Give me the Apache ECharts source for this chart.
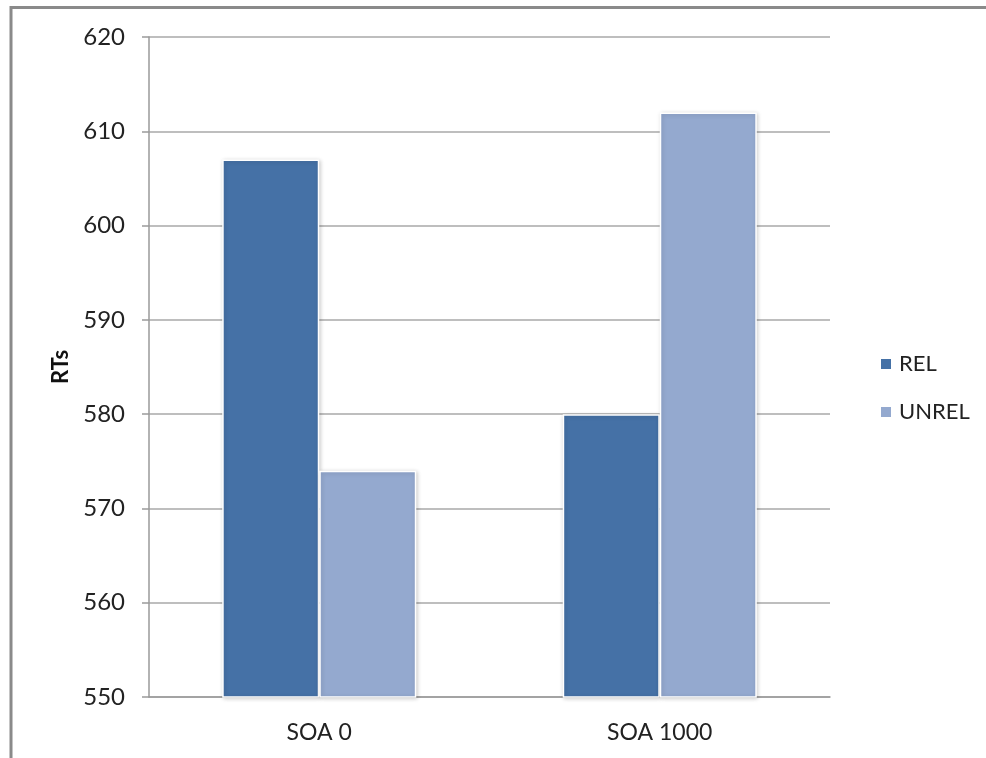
<!DOCTYPE html>
<html>
<head>
<meta charset="utf-8">
<script src="https://cdn.jsdelivr.net/npm/echarts@6/dist/echarts.min.js"></script>
<style>
  html, body { margin: 0; padding: 0; background: #fff; }
  #chart { width: 986px; height: 758px; }
</style>
</head>
<body>
<div id="chart"></div>
<script>
// Mean reaction times by SOA and cue reliability
const categories = ['SOA 0', 'SOA 1000'];
const relValues = [607, 580];
const unrelValues = [574, 612];
const seriesNames = ['REL', 'UNREL'];
const yMin = 550, yMax = 620, yStep = 10;

const FONT = 'Lato, "Open Sans", sans-serif';
const chart = echarts.init(document.getElementById('chart'), null, { renderer: 'canvas' });

const barStyle = (color) => ({
  color: color,
  borderColor: '#ffffff',
  borderWidth: 1.5,
  shadowColor: 'rgba(0,0,0,0.18)',
  shadowBlur: 4,
  shadowOffsetX: 1,
  shadowOffsetY: 1
});

chart.setOption({
  backgroundColor: '#ffffff',
  animation: false,
  textStyle: { fontFamily: FONT },
  graphic: [{
    type: 'rect',
    shape: { x: 11, y: 7.5, width: 1000, height: 800 },
    style: { fill: 'none', stroke: '#8a8a8a', lineWidth: 3 },
    silent: true
  }],
  grid: { left: 149, top: 37, right: 156, bottom: 61, containLabel: false },
  legend: {
    orient: 'vertical',
    left: 874,
    top: 347,
    itemWidth: 12,
    itemHeight: 12,
    itemGap: 24,
    icon: 'rect',
    textStyle: { fontFamily: FONT, fontSize: 22, lineHeight: 24, color: '#222', padding: [0, 0, 0, 2] },
    data: seriesNames
  },
  xAxis: {
    type: 'category',
    data: categories,
    axisLine: { lineStyle: { color: '#9a9a9a', width: 1.5 } },
    axisTick: { show: false },
    axisLabel: { fontFamily: FONT, fontSize: 23, color: '#222', margin: 24 },
    splitLine: { show: false }
  },
  yAxis: {
    type: 'value',
    min: yMin,
    max: yMax,
    interval: yStep,
    name: 'RTs',
    nameLocation: 'middle',
    nameRotate: 90,
    nameGap: 75,
    nameTextStyle: { fontFamily: FONT, fontSize: 22, fontWeight: 'bold', color: '#111' },
    axisLine: { show: true, lineStyle: { color: '#9a9a9a', width: 1.5 } },
    axisTick: { show: true, length: 7, lineStyle: { color: '#9a9a9a', width: 1.5 } },
    axisLabel: { fontFamily: FONT, fontSize: 24, color: '#222', margin: 24 },
    splitLine: { show: true, lineStyle: { color: '#a8a8a8', width: 1.5 } }
  },
  series: [
    {
      name: seriesNames[0],
      type: 'bar',
      data: relValues,
      barGap: '0%',
      barCategoryGap: '43%',
      itemStyle: barStyle('#4571a6')
    },
    {
      name: seriesNames[1],
      type: 'bar',
      data: unrelValues,
      barGap: '0%',
      barCategoryGap: '43%',
      itemStyle: barStyle('#94a9cf')
    }
  ]
});
</script>
</body>
</html>
